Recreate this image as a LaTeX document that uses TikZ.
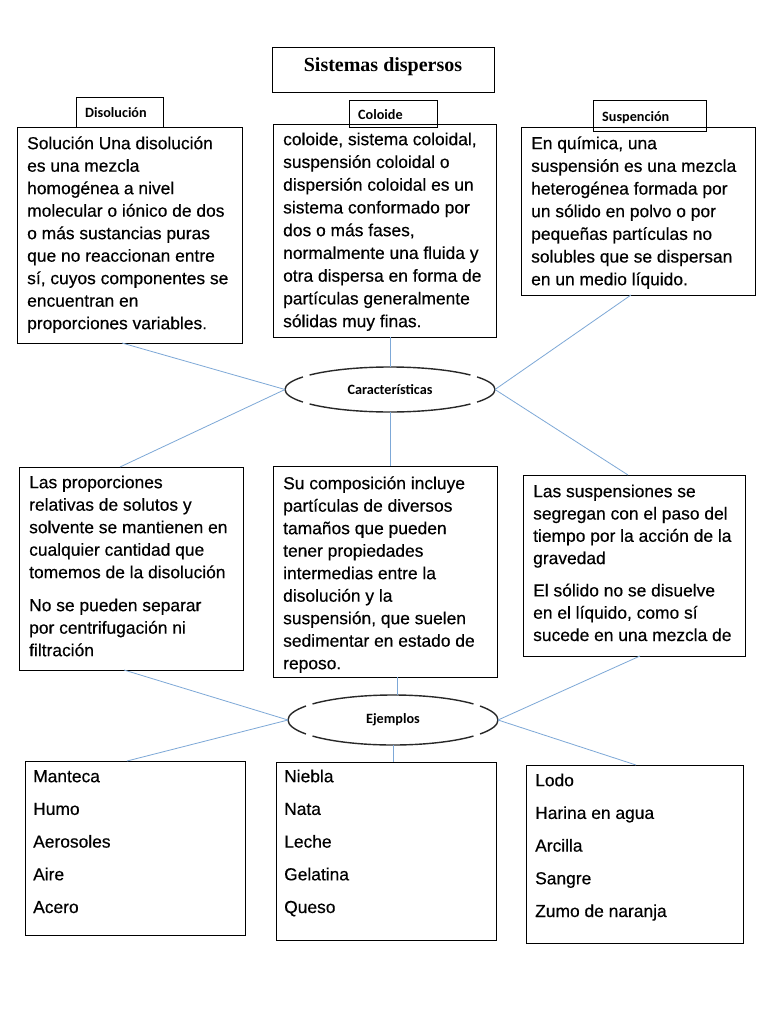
\documentclass[tikz,border=0pt]{standalone}
\usepackage{fontspec}
\setmainfont{Liberation Sans}[FakeBold=0.4]
\newfontfamily\labfont{Carlito}
\newfontfamily\ttlfont{Liberation Serif}
\usetikzlibrary{shapes.geometric,calc}
\definecolor{connblue}{RGB}{125,168,215}
\definecolor{ellgray}{RGB}{40,40,40}
\newcommand\firstrule{\rule{0pt}{14pt}}
\newcommand\brokenell[3]{%
  \foreach \a/\b in {40/140,146/214,220/320,326/394}{%
    \draw[ell] ($(#1.center)+(\a:#2 and #3)$) arc[start angle=\a,end angle=\b,x radius=#2,y radius=#3];}}
\begin{document}
\begin{tikzpicture}[x=1pt,y=-1pt,
  box/.style={draw=black,line width=0.9pt,inner sep=0pt,outer sep=0pt,anchor=north west},
  txt/.style={inner sep=0pt,anchor=north west,align=left,font=\fontsize{17.4}{22.5}\selectfont},
  items/.style={inner sep=0pt,anchor=north west,align=left,font=\fontsize{17.4}{32.7}\selectfont},
  labtxt/.style={inner sep=0pt,anchor=base west,font=\labfont\bfseries\fontsize{14.2}{16}\selectfont},
  elltxt/.style={ellipse,inner sep=0pt,outer sep=0pt,font=\labfont\bfseries\fontsize{14.2}{16}\selectfont},
  conn/.style={draw=connblue,line width=0.8pt},
  ell/.style={draw=ellgray,line width=1.4pt}
]
\fill[white] (0,0) rectangle (768,1024);
\useasboundingbox (0,0) rectangle (768,1024);

% title
\node[box,minimum width=222pt,minimum height=45pt] (tbox) at (272,47) {};
\node[inner sep=0pt,anchor=base,font=\ttlfont\bfseries\fontsize{20}{24}\selectfont] (ttl) at (383,72) {Sistemas dispersos};

% label boxes
\node[box,minimum width=87pt,minimum height=30pt] (dlab) at (76,97) {};
\node[labtxt] (dlabt) at (85,118) {Disolución};
\node[box,minimum width=88pt,minimum height=27pt] (clab) at (349,100) {};
\node[labtxt] (clabt) at (358,120) {Coloide};
\node[box,minimum width=113pt,minimum height=31pt] (slab) at (593,100) {};
\node[labtxt] (slabt) at (602,122) {Suspención};

% top boxes
\node[box,minimum width=225pt,minimum height=216pt] (d1) at (17,127) {};
\node[txt] (d1t) at (27,135) {\firstrule Solución Una disolución\\es una mezcla\\homogénea a nivel\\molecular o iónico de dos\\o más sustancias puras\\que no reaccionan entre\\sí, cuyos componentes se\\encuentran en\\proporciones variables.};
\node[box,minimum width=223pt,minimum height=213pt] (c1) at (273,124) {};
\node[txt,font=\fontsize{17.4}{22.75}\selectfont] (c1t) at (283,131) {\firstrule coloide, sistema coloidal,\\suspensión coloidal o\\dispersión coloidal es un\\sistema conformado por\\dos o más fases,\\normalmente una fluida y\\otra dispersa en forma de\\partículas generalmente\\sólidas muy finas.};
\node[box,minimum width=234pt,minimum height=168pt] (s1) at (521,127) {};
\node[txt,font=\fontsize{17.4}{22.67}\selectfont] (s1t) at (531,135) {\firstrule En química, una\\suspensión es una mezcla\\heterogénea formada por\\un sólido en polvo o por\\pequeñas partículas no\\solubles que se dispersan\\en un medio líquido.};

% middle row
\node[box,minimum width=224pt,minimum height=203pt] (d2) at (19,467) {};
\node[txt] (d2t) at (29,474) {\firstrule Las proporciones\\relativas de solutos y\\solvente se mantienen en\\cualquier cantidad que\\tomemos de la disolución\\[10.5pt]No se pueden separar\\por centrifugación ni\\filtración};
\node[box,minimum width=224pt,minimum height=211pt] (c2) at (273,466) {};
\node[txt] (c2t) at (283,475) {\firstrule Su composición incluye\\partículas de diversos\\tamaños que pueden\\tener propiedades\\intermedias entre la\\disolución y la\\suspensión, que suelen\\sedimentar en estado de\\reposo.};
\node[box,minimum width=222pt,minimum height=181pt] (s2) at (523,475) {};
\node[txt,font=\fontsize{17.4}{22.3}\selectfont] (s2t) at (533,483) {\firstrule Las suspensiones se\\segregan con el paso del\\tiempo por la acción de la\\gravedad\\[10pt]El sólido no se disuelve\\en el líquido, como sí\\sucede en una mezcla de};

% bottom row
\node[box,minimum width=220pt,minimum height=174pt] (d3) at (25,761) {};
\node[items] (d3t) at (33,768) {\firstrule Manteca\\Humo\\Aerosoles\\Aire\\Acero};
\node[box,minimum width=220pt,minimum height=178pt] (c3) at (276,762) {};
\node[items] (c3t) at (284,768) {\firstrule Niebla\\Nata\\Leche\\Gelatina\\Queso};
\node[box,minimum width=217pt,minimum height=178pt] (s3) at (526,765) {};
\node[items] (s3t) at (535,772) {\firstrule Lodo\\Harina en agua\\Arcilla\\Sangre\\Zumo de naranja};

% ellipses
\node[elltxt,minimum width=210pt,minimum height=45pt] (car) at (390,389.5) {Características};
\brokenell{car}{105pt}{22.5pt}
\node[elltxt,minimum width=210pt,minimum height=50pt] (ej) at (393,720) {Ejemplos};
\brokenell{ej}{105pt}{25pt}

% connectors
\draw[conn] (car.west) -- ([xshift=105pt]d1.south west);
\draw[conn] (car.west) -- ([xshift=101pt]d2.north west);
\draw[conn] (car.north) -- (car.north |- c1.south);
\draw[conn] (car.south) -- (car.south |- c2.north);
\draw[conn] (car.east) -- ([xshift=110pt]s1.south west);
\draw[conn] (car.east) -- ([xshift=105pt]s2.north west);

\draw[conn] (ej.west) -- ([xshift=105pt]d2.south west);
\draw[conn] (ej.west) -- ([xshift=102pt]d3.north west);
\draw[conn] ([xshift=4pt]ej.north) -- ([xshift=4pt]ej.north |- c2.south);
\draw[conn] (ej.south) -- (ej.south |- c3.north);
\draw[conn] (ej.east) -- ([xshift=117pt]s2.south west);
\draw[conn] (ej.east) -- ([xshift=110pt]s3.north west);
\end{tikzpicture}
\end{document}
